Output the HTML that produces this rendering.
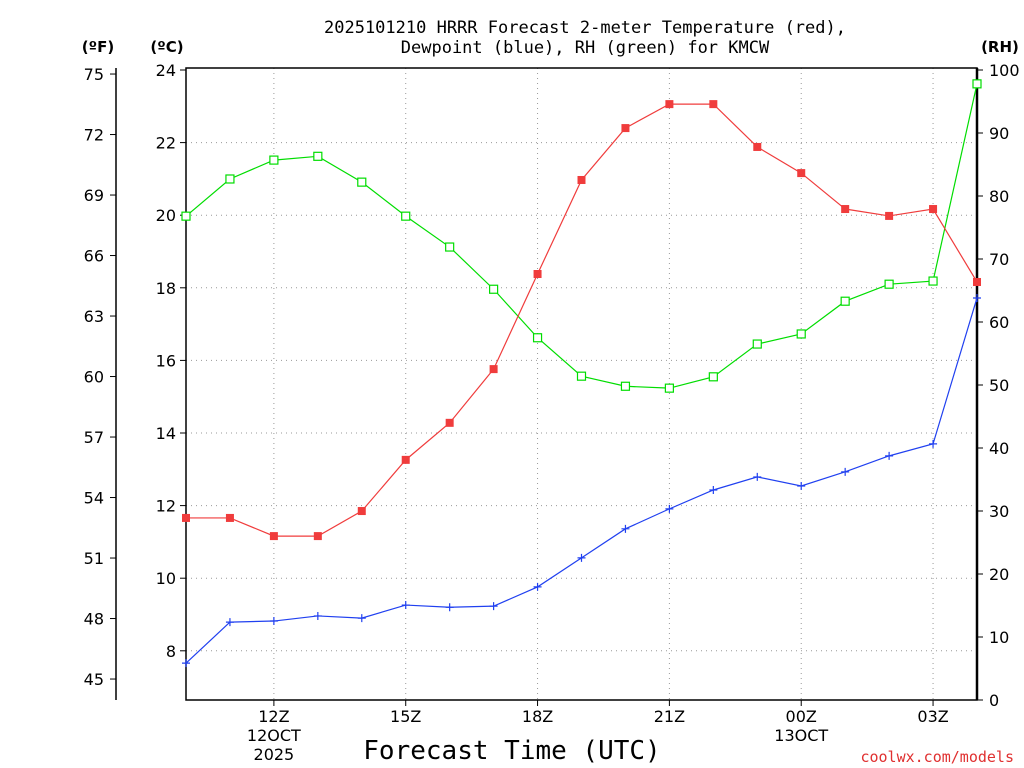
<!DOCTYPE html>
<html><head><meta charset="utf-8"><style>
body{margin:0;background:#fff;}
svg{display:block;font-family:"DejaVu Sans","Liberation Sans",sans-serif;}
</style></head><body>
<svg id="chart" width="1024" height="768"></svg>
<script>
const hours=["10Z","11Z","12Z","13Z","14Z","15Z","16Z","17Z","18Z","19Z","20Z","21Z","22Z","23Z","00Z","01Z","02Z","03Z","04Z"];
const tempC=[11.66,11.66,11.16,11.16,11.85,13.26,14.28,15.76,18.38,20.97,22.4,23.06,23.06,21.88,21.16,20.17,19.98,20.17,18.16];
const dewC=[7.66,8.79,8.82,8.96,8.9,9.26,9.2,9.23,9.76,10.56,11.36,11.91,12.43,12.79,12.54,12.93,13.37,13.7,17.72];
const rh=[76.8,82.7,85.7,86.3,82.2,76.8,71.9,65.2,57.5,51.4,49.8,49.5,51.3,56.5,58.1,63.3,66,66.5,97.8];
const cTicks=[8,10,12,14,16,18,20,22,24];
const fTicks=[45,48,51,54,57,60,63,66,69,72,75];
const rhTicks=[0,10,20,30,40,50,60,70,80,90,100];
const xLabels=["12Z","15Z","18Z","21Z","00Z","03Z"];
const xLabelIdx=[2,5,8,11,14,17];

const NS="http://www.w3.org/2000/svg";
const svg=document.getElementById('chart');
const L=186,R=977,T=68,B=700;
const xs=i=>L+i*(R-L)/(hours.length-1);
const yC=c=>70+(24-c)*36.3;
const yF=f=>yC((f-32)*5/9);
const yRH=r=>700-r*6.3;
const MONO="'DejaVu Sans Mono','Liberation Mono',monospace";
function el(tag,attrs,parent){const e=document.createElementNS(NS,tag);for(const k in attrs)e.setAttribute(k,attrs[k]);(parent||svg).appendChild(e);return e;}
function txt(x,y,s,anchor,size,fam,color){const t=el('text',{x:x,y:y,'text-anchor':anchor||'middle','font-size':size||16,fill:color||'#000'});if(fam)t.setAttribute('font-family',fam);t.textContent=s;return t;}

let t=txt(585,33,"2025101210 HRRR Forecast 2-meter Temperature (red),","middle",17,MONO);


t=txt(585,53,"Dewpoint (blue), RH (green) for KMCW","middle",17,MONO);


t=txt(98,52,"(ºF)","middle",15);t.setAttribute('font-weight','bold');


t=txt(167,52,"(ºC)","middle",15);t.setAttribute('font-weight','bold');


t=txt(1000,52,"(RH)","middle",15);t.setAttribute('font-weight','bold');



cTicks.forEach(c=>{if(c<24){const g=el('line',{x1:L,x2:R,y1:yC(c),y2:yC(c),stroke:'#999','stroke-dasharray':'1,4'});

}});
xLabelIdx.forEach(i=>{const g=el('line',{x1:xs(i),x2:xs(i),y1:T,y2:B,stroke:'#999','stroke-dasharray':'1,4'});

});

const fr=el('rect',{x:L,y:T,width:R-L,height:B-T,fill:'none',stroke:'#000','stroke-width':1.5});


el('line',{x1:R,x2:R,y1:T,y2:B,stroke:'#000','stroke-width':2.5});
el('line',{x1:116,x2:116,y1:T,y2:B,stroke:'#000','stroke-width':1.5});

cTicks.forEach(c=>{el('line',{x1:L-6,x2:L,y1:yC(c),y2:yC(c),stroke:'#000'});const k=txt(L-10,yC(c)+6,String(c),'end',16);

});
fTicks.forEach(f=>{el('line',{x1:110,x2:116,y1:yF(f),y2:yF(f),stroke:'#000'});const k=txt(104,yF(f)+6,String(f),'end',16);

});
rhTicks.forEach(r=>{el('line',{x1:R,x2:R+6,y1:yRH(r),y2:yRH(r),stroke:'#000'});const k=txt(R+12,yRH(r)+6,String(r),'start',16);

});
xLabelIdx.forEach((i,j)=>{el('line',{x1:xs(i),x2:xs(i),y1:B,y2:B+6,stroke:'#000'});const k=txt(xs(i),B+22,xLabels[j],'middle',16);

});
txt(xs(2),B+41,"12OCT","middle",16);txt(xs(2),B+60,"2025","middle",16);
txt(xs(14),B+41,"13OCT","middle",16);
t=txt(512,759,"Forecast Time (UTC)","middle",26,MONO);


t=txt(1014,762,"coolwx.com/models","end",15,MONO,"#e03030");



function series(vals,yf,color,name,marker){
  const pts=vals.map((v,i)=>xs(i)+','+yf(v)).join(' ');
  const p=el('polyline',{points:pts,fill:'none',stroke:color,'stroke-width':1.2});
  
  
  vals.forEach((v,i)=>{const x=xs(i),y=yf(v);let m;
    if(marker==='fill'){m=el('rect',{x:x-4,y:y-4,width:8,height:8,fill:color});}
    else if(marker==='open'){m=el('rect',{x:x-4,y:y-4,width:8,height:8,fill:'#fff',stroke:color,'stroke-width':1.2});}
    else{m=el('path',{d:`M${x-4},${y}H${x+4}M${x},${y-4}V${y+4}`,stroke:color,'stroke-width':1.2});}
    
    
  });
}
series(rh,yRH,'#00dd00','rh','open');
series(tempC,yC,'#f03c3c','temperature','fill');
series(dewC,yC,'#2040f0','dewpoint','plus');
</script>
</body></html>
